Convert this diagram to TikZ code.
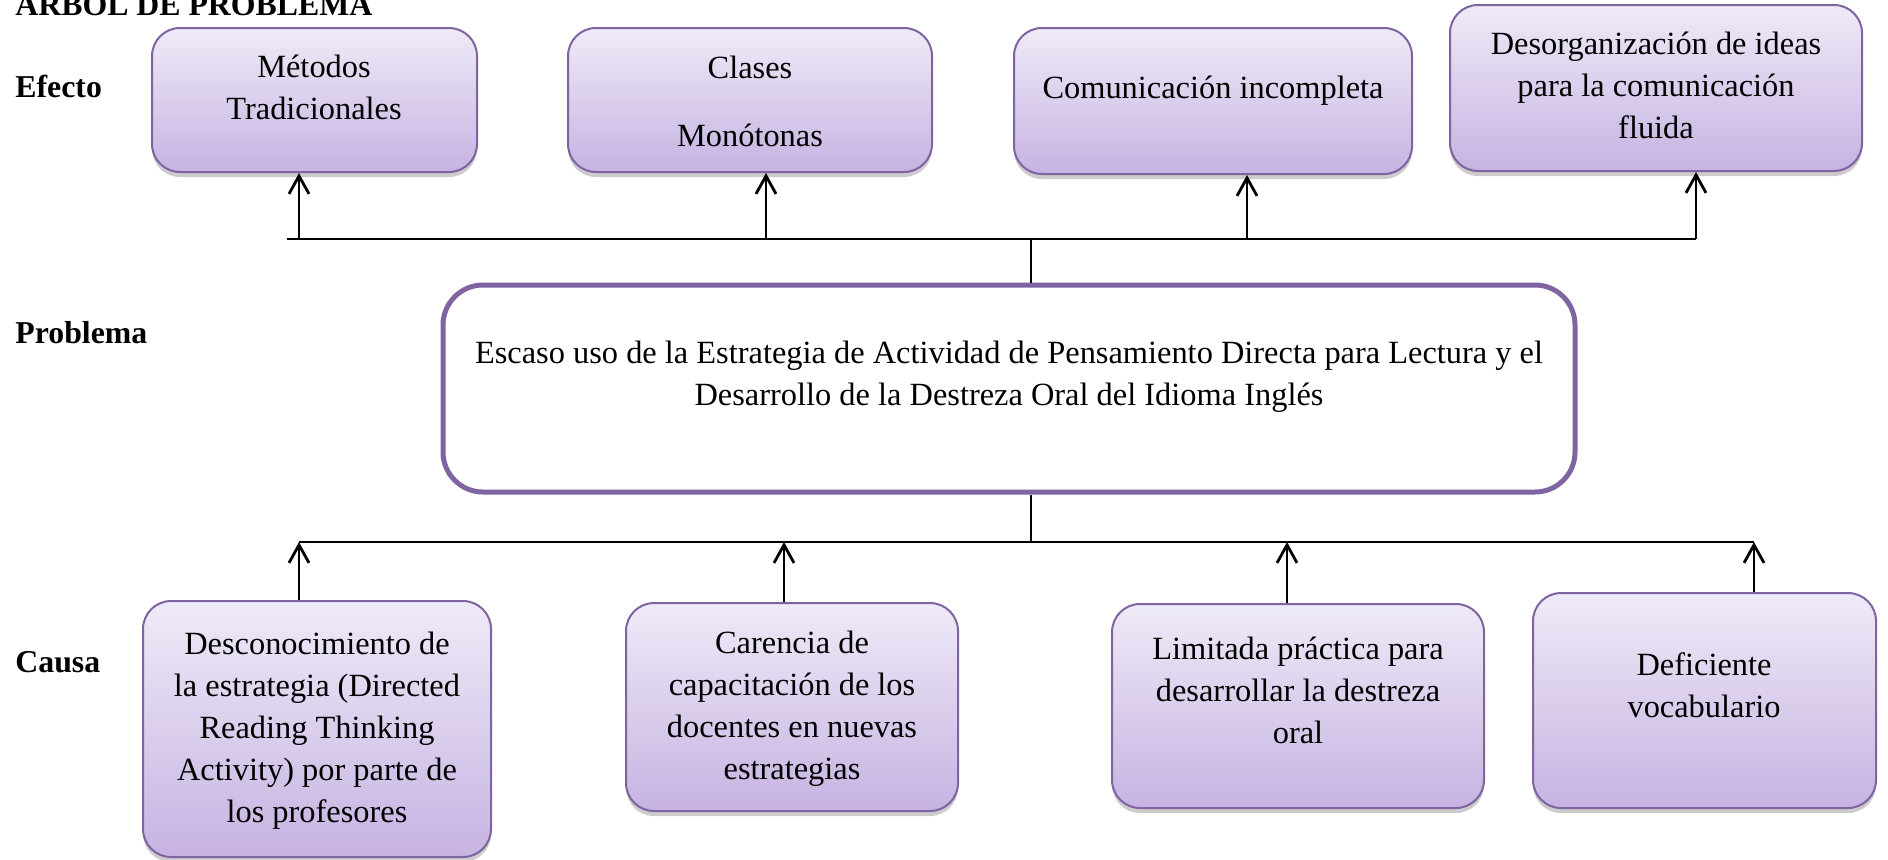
\documentclass[tikz,border=0pt]{standalone}
\usepackage{fontspec}
\setmainfont{Liberation Serif}
\usetikzlibrary{arrows.meta,shadows,fit}
\definecolor{boxline}{HTML}{8064A2}
\definecolor{boxtop}{HTML}{EFEAF7}
\definecolor{boxbot}{HTML}{C6B3E2}
\tikzset{
  effbox/.style={draw=boxline, line width=1pt, rounded corners=14pt, top color=boxtop, bottom color=boxbot, inner sep=0pt,
    drop shadow={shadow xshift=0pt, shadow yshift=-2.5pt, fill=black, opacity=0.2}},
  probbox/.style={draw=boxline, line width=2.5pt, rounded corners=20pt, fill=white, inner sep=0pt},
  boxtext/.style={align=center, inner sep=0pt, anchor=north, font=\fontsize{16.2}{21}\selectfont},
  lab/.style={inner sep=0pt, anchor=base west, font=\fontsize{15.9}{21}\selectfont\bfseries},
  arr/.style={-{Straight Barb[length=9pt,width=10pt]}, line width=1.4pt},
  bus/.style={line width=1.2pt}
}
\begin{document}
\begin{tikzpicture}[x=0.5pt,y=-0.5pt]
\useasboundingbox (0,0) rectangle (1888,859);
\node[lab] (title) at (15,15) {ARBOL DE PROBLEMA};
\node[lab] (efecto) at (15,97) {Efecto};
\node[lab] (problema) at (15,343) {Problema};
\node[lab] (causa) at (15,672) {Causa};
% efectos
\node[effbox, fit={(152,28) (477,172)}] (e1) {};
\node[effbox, fit={(568,28) (932,172)}] (e2) {};
\node[effbox, fit={(1014,28) (1412,174)}] (e3) {};
\node[effbox, fit={(1450,5) (1862,171)}] (e4) {};
\node[boxtext] (e1t) at (314,55) {Métodos\\Tradicionales};
\node[boxtext] (e2t) at (750,56) {Clases\\[13pt]Monótonas};
\node[boxtext] (e3t) at (1213,76) {Comunicación incompleta};
\node[boxtext] (e4t) at (1656,32) {Desorganización de ideas\\para la comunicación\\fluida};
% problema
\node[probbox, fit={(443,285) (1575,492)}] (prob) {};
\node[boxtext] (probt) at (1009,341) {Escaso uso de la Estrategia de Actividad de Pensamiento Directa para Lectura y el\\Desarrollo de la Destreza Oral del Idioma Inglés};
% causas
\node[effbox, fit={(143,601) (491,857)}] (c1) {};
\node[effbox, fit={(626,603) (958,811)}] (c2) {};
\node[effbox, fit={(1112,604) (1484,808)}] (c3) {};
\node[effbox, fit={(1533,593) (1876,808)}] (c4) {};
\node[boxtext] (c1t) at (317,632) {Desconocimiento de\\la estrategia (Directed\\Reading Thinking\\Activity) por parte de\\los profesores};
\node[boxtext] (c2t) at (792,631) {Carencia de\\capacitación de los\\docentes en nuevas\\estrategias};
\node[boxtext] (c3t) at (1298,637) {Limitada práctica para\\desarrollar la destreza\\oral};
\node[boxtext] (c4t) at (1704,652) {Deficiente\\vocabulario};
% conectores
\coordinate (top-l) at (287,239);
\coordinate (top-r) at (1696,239);
\coordinate (top-m) at (1031,239);
\coordinate (bot-l) at (299,542);
\coordinate (bot-r) at (1754,542);
\coordinate (bot-m) at (1031,542);
\draw[bus] (top-l) -- (top-r);
\draw[bus] (top-m) -- (top-m |- prob.north);
\draw[bus] (bot-l) -- (bot-r);
\draw[bus] (bot-m |- prob.south) -- (bot-m);
\foreach \n/\x in {e1/299, e2/766, e3/1247, e4/1696}{
  \coordinate (\n-in) at (\x,239);
  \draw[arr] (\n-in) -- (\n-in |- \n.south);
}
\foreach \n/\x in {c1/299, c2/784, c3/1287, c4/1754}{
  \coordinate (\n-out) at (\x,542);
  \draw[arr] (\n-out |- \n.north) -- (\n-out);
}
\end{tikzpicture}
\end{document}
